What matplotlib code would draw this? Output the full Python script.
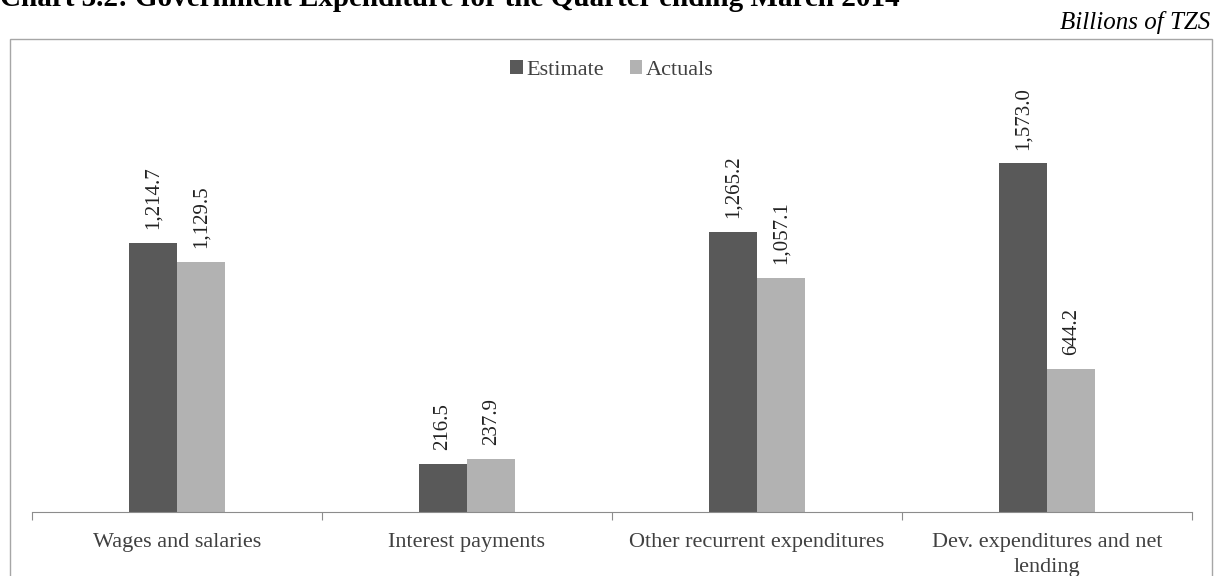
import matplotlib
matplotlib.use("Agg")
import matplotlib.pyplot as plt
from matplotlib.patches import Rectangle
import numpy as np

categories = ["Wages and salaries", "Interest payments", "Other recurrent expenditures",
              "Dev. expenditures and net\nlending"]
estimate = [1214.7, 216.5, 1265.2, 1573.0]
actuals = [1129.5, 237.9, 1057.1, 644.2]
series_names = ["Estimate", "Actuals"]

plt.rcParams['font.family'] = ['Liberation Serif', 'DejaVu Serif']

W, H = 1215, 576
fig = plt.figure(figsize=(W / 100, H / 100), dpi=100)

ax_left, ax_right = 32 / W, 1192 / W
ax_bottom, ax_top = 1 - 512 / H, 1 - 60 / H
ax = fig.add_axes([ax_left, ax_bottom, ax_right - ax_left, ax_top - ax_bottom])

x = np.arange(len(categories))
bw = 0.167
c_est, c_act = '#595959', '#B2B2B2'
b1 = ax.bar(x - bw / 2, estimate, bw, color=c_est, label=series_names[0])
b2 = ax.bar(x + bw / 2, actuals, bw, color=c_act, label=series_names[1])

for bars, vals in ((b1, estimate), (b2, actuals)):
    for rect, v in zip(bars, vals):
        ax.annotate(f"{v:,.1f}", (rect.get_x() + rect.get_width() / 2, rect.get_height()),
                    xytext=(0, 10), textcoords='offset points', rotation=90,
                    ha='center', va='bottom', fontsize=15, color='#222222')

ax.set_xlim(-0.5, len(categories) - 0.5)
ax.set_ylim(0, 2040)
ax.set_yticks([])
for s in ['top', 'right', 'left']:
    ax.spines[s].set_visible(False)
ax.spines['bottom'].set_color('#8c8c8c')
ax.set_xticks(np.arange(len(categories) + 1) - 0.5, minor=False)
ax.set_xticklabels([''] * (len(categories) + 1))
ax.tick_params(axis='x', which='major', length=6, color='#8c8c8c', direction='out')
ax.set_xticks(x, minor=True)
ax.set_xticklabels(categories, minor=True, fontsize=16, color='#404040', linespacing=1.45)
ax.tick_params(axis='x', which='minor', length=0, pad=15)

leg_y = (1 - 70 / H - ax_bottom) / (ax_top - ax_bottom)
leg = ax.legend(loc='center', bbox_to_anchor=(0.5, leg_y),
                ncol=2, frameon=False, fontsize=16, handlelength=0.55, handleheight=0.55,
                handletextpad=0.15, columnspacing=1.2, borderaxespad=0)
for t in leg.get_texts():
    t.set_color('#404040')

fig.patches.append(Rectangle((10 / W, -0.05), 1202 / W, 1.05 - 39 / H,
                             transform=fig.transFigure, fill=False,
                             edgecolor='#a6a6a6', linewidth=1.0, clip_on=False))

fig.text(0, 1 - 6 / H, "Chart 3.2: Government Expenditure for the Quarter ending March 2014",
         fontsize=21, fontweight='bold', ha='left', va='baseline')
fig.text(1210 / W, 1 - 22 / H, "Billions of TZS", fontsize=18, fontstyle='italic',
         ha='right', va='center')

fig.savefig("out.png", dpi=100)
